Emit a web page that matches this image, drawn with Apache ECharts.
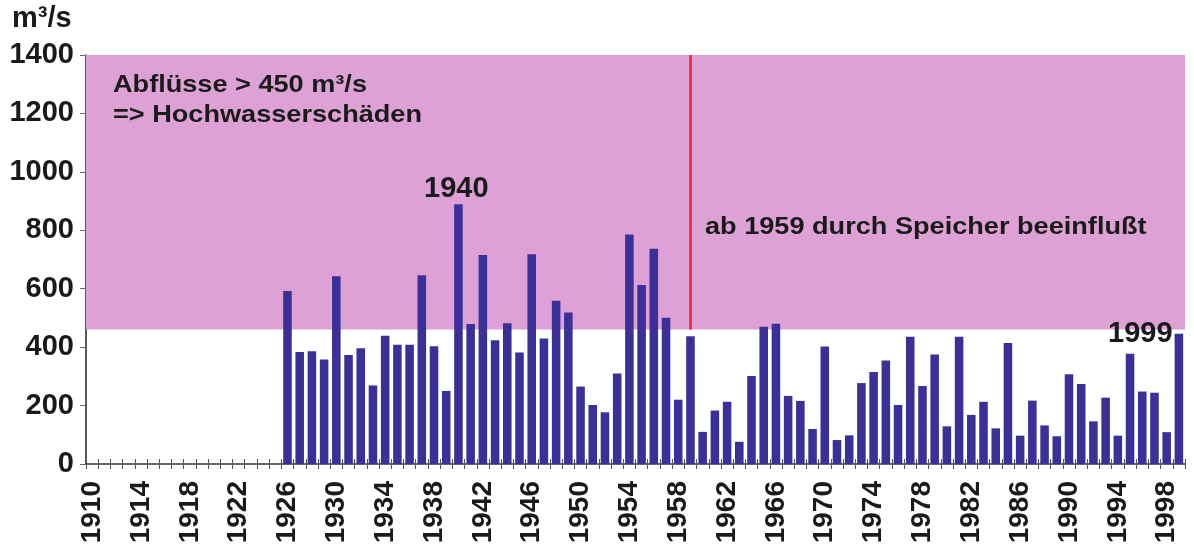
<!DOCTYPE html>
<html>
<head>
<meta charset="utf-8">
<script src="https://cdn.jsdelivr.net/npm/echarts@6/dist/echarts.min.js"></script>
<style>
  html, body { margin: 0; padding: 0; background: #fff; }
  #chart { width: 1194px; height: 554px; }
</style>
</head>
<body>
<div id="chart"></div>
<script>
// Jahre 1910..1999 (Kategorien)
const years = [];
for (let y = 1910; y <= 1999; y++) years.push(String(y));

// keine Messwerte vor 1926
const missing = [null, null, null, null, null, null, null, null, null, null, null, null, null, null, null, null];

// jährliche Höchstabflüsse m³/s, 1926..1999
const flows = [
  592, 383, 386, 358, 643, 373, 396, 269, 439, 408,
  408, 646, 403, 250, 889, 479, 715, 424, 482, 382,
  718, 430, 559, 519, 265, 202, 177, 310, 786, 613,
  737, 501, 220, 437, 110, 183, 213, 76, 301, 470,
  480, 233, 216, 120, 402, 82, 98, 277, 315, 354,
  202, 436, 267, 375, 129, 436, 168, 213, 122, 414,
  97, 217, 132, 95, 307, 274, 146, 227, 97, 377,
  248, 244, 109, 446
];

const values = missing.concat(flows);

// Schadensgrenze und Speicher-Jahr
const damageLimit = 460;
const yMax = 1400;
const reservoirYear = '1959';

const FONT = 'Liberation Sans, Arial, sans-serif';

function label(text, left, top, size, extra, sx) {
  return {
    type: 'text', left: left, top: top, z: 100,
    scaleX: sx || 1,
    style: Object.assign({
      text: text, fontFamily: FONT, fontWeight: 'bold', fontSize: size, fill: '#1a1a1a'
    }, extra || {})
  };
}

const chart = echarts.init(document.getElementById('chart'));

chart.setOption({
  animation: false,
  grid: { left: 86, right: 9, top: 55, bottom: 90 },
  xAxis: [{
    type: 'category',
    data: years,
    position: 'bottom',
    axisLine: { lineStyle: { color: '#333', width: 1.5 } },
    axisTick: { show: true, interval: 0, length: 5, lineStyle: { color: '#555', width: 1 } },
    axisLabel: {
      interval: 3,
      rotate: 90,
      margin: 17,
      color: '#1a1a1a',
      fontSize: 28,
      fontWeight: 'bold',
      fontFamily: FONT
    }
  }, {
    // Ticks oberhalb der Achse
    type: 'category',
    data: years,
    position: 'bottom',
    offset: 0,
    axisLine: { show: false },
    axisTick: { show: true, inside: true, interval: 0, length: 5, lineStyle: { color: '#555', width: 1 } },
    axisLabel: { show: false }
  }],
  yAxis: {
    type: 'value',
    min: 0,
    max: yMax,
    interval: 200,
    splitLine: { show: false },
    axisLine: { show: true, lineStyle: { color: '#222', width: 1.5 } },
    axisTick: { show: true, length: 6, lineStyle: { color: '#666' } },
    axisLabel: {
      margin: 12,
      color: '#1a1a1a',
      fontSize: 29,
      fontWeight: 'bold',
      fontFamily: FONT,
      formatter: function (v) { return String(v); }
    }
  },
  series: [{
    type: 'bar',
    data: values,
    barWidth: '70%',
    itemStyle: { color: '#3b2f98' },
    markArea: {
      silent: true,
      itemStyle: { color: '#dea1d5' },
      data: [[{ yAxis: damageLimit }, { yAxis: yMax }]]
    },
    markLine: {
      silent: true,
      symbol: 'none',
      label: { show: false },
      lineStyle: { color: '#e8262a', width: 2.5, type: 'solid' },
      data: [[{ xAxis: reservoirYear, yAxis: damageLimit }, { xAxis: reservoirYear, yAxis: yMax }]]
    },
    z: 3
  }],
  graphic: [
    label('m³/s', 12, 4, 29),
    label('Abflüsse > 450 m³/s\n=> Hochwasserschäden', 113, 70, 24, { lineHeight: 30 }, 1.13),
    label('1940', 424, 174, 29),
    label('ab 1959 durch Speicher beeinflußt', 705, 215, 24, null, 1.13),
    label('1999', 1108, 319, 29)
  ]
});
</script>
</body>
</html>
